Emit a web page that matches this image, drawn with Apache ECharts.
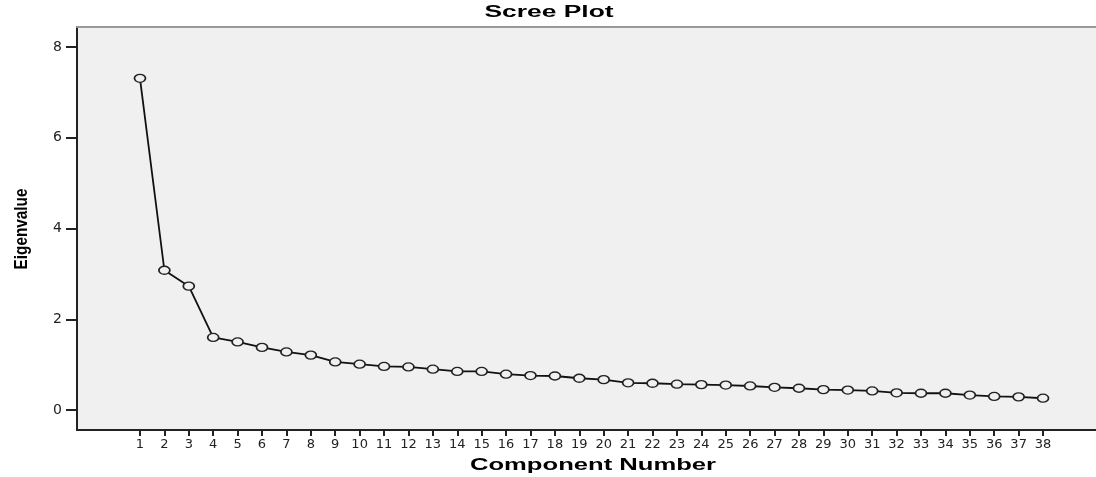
<!DOCTYPE html>
<html>
<head>
<meta charset="utf-8">
<style>html,body{margin:0;padding:0;background:#fff}#c{width:1096px;height:477px}</style>
<script src="https://cdn.jsdelivr.net/npm/echarts@6/dist/echarts.min.js"></script>
</head>
<body>
<div id="c"></div>
<script>
var components = [1,2,3,4,5,6,7,8,9,10,11,12,13,14,15,16,17,18,19,20,21,22,23,24,25,26,27,28,29,30,31,32,33,34,35,36,37,38];
var eigenvalues = [7.31,3.08,2.73,1.60,1.50,1.38,1.28,1.21,1.06,1.01,0.96,0.95,0.90,0.85,0.85,0.79,0.76,0.75,0.70,0.67,0.60,0.59,0.57,0.56,0.55,0.53,0.50,0.48,0.45,0.44,0.42,0.38,0.37,0.37,0.33,0.30,0.29,0.26];
var yTicks = [0,2,4,6,8];
var titleText = 'Scree Plot';
var xName = 'Component Number';
var yName = 'Eigenvalue';

var chart = echarts.init(document.getElementById('c'), null, {renderer:'canvas'});
var font = 'Liberation Sans, Arial, sans-serif';
var tickFont = 'DejaVu Sans, sans-serif';
function label(text, x, y, size, sx, rot) {
  return {
    type:'text', x:x, y:y, scaleX:sx, rotation:rot || 0, silent:true,
    style:{text:text, font:'bold ' + size + 'px ' + font, fill:'#000',
      align:'center', verticalAlign:'middle', textAlign:'center', textVerticalAlign:'middle'}
  };
}
chart.setOption({
  animation:false,
  backgroundColor:'#ffffff',
  graphic:[
    label(titleText, 549, 13, 16, 1.65, 0),
    label(xName, 593, 466, 16, 1.6, 0),
    label(yName, 22, 229, 18, 0.85, Math.PI / 2)
  ],
  grid:{left:77, top:27, right:0, bottom:47, show:true, backgroundColor:'#f0f0f0', borderWidth:0},
  xAxis:[{
    type:'value', min:-1.58, max:40.17,
    axisLine:{show:true, onZero:false, lineStyle:{color:'#222', width:2}},
    axisTick:{show:true, length:6, customValues:components, lineStyle:{color:'#222', width:2}},
    axisLabel:{customValues:components, margin:8, fontFamily:tickFont, fontSize:13, color:'#222'},
    splitLine:{show:false}
  },{
    type:'value', position:'top', min:-1.58, max:40.17,
    axisLine:{show:true, onZero:false, lineStyle:{color:'#999', width:2}},
    axisTick:{show:false}, axisLabel:{show:false}, splitLine:{show:false}
  }],
  yAxis:{
    type:'value', min:-0.44, max:8.44,
    axisLine:{show:true, onZero:false, lineStyle:{color:'#222', width:2}},
    axisTick:{show:true, length:11, customValues:yTicks, lineStyle:{color:'#222', width:2}},
    axisLabel:{customValues:yTicks, margin:15, fontFamily:tickFont, fontSize:14, color:'#222'},
    splitLine:{show:false}
  },
  series:[{
    type:'line', xAxisIndex:0,
    data:components.map(function(c,i){return [c, eigenvalues[i]];}),
    symbol:'circle', symbolSize:[11,8], showAllSymbol:true,
    itemStyle:{color:'#f0f0f0', borderColor:'#222', borderWidth:1.5},
    lineStyle:{color:'#111', width:1.8}
  }]
});
</script>
</body>
</html>
